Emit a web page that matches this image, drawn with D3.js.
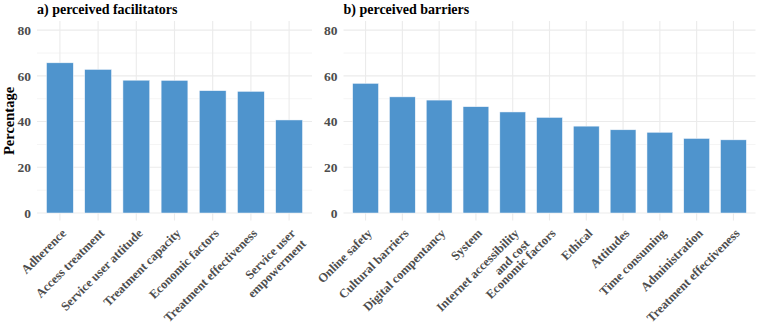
<!DOCTYPE html>
<html>
<head>
<meta charset="utf-8">
<script src="https://cdn.jsdelivr.net/npm/d3@7"></script>
<style>
  html, body { margin: 0; padding: 0; background: #ffffff; }
  svg { display: block; }
</style>
</head>
<body>
<svg id="chart" width="758" height="327"></svg>
<script>
// ---- Data ----
const facilitatorCategories = ["Adherence", "Access treatment", "Service user attitude", "Treatment capacity", "Economic factors", "Treatment effectiveness", "Service user\nempowerment"];
const facilitatorValues = [65.7, 62.8, 58.1, 58.0, 53.5, 53.2, 40.7];

const barrierCategories = ["Online safety", "Cultural barriers", "Digital compentancy", "System", "Internet accessibility\nand cost", "Economic factors", "Ethical", "Attitudes", "Time consuming", "Administration", "Treatment effectiveness"];
const barrierValues = [56.7, 50.8, 49.4, 46.5, 44.2, 41.8, 38.0, 36.4, 35.3, 32.6, 32.0];

const yTicks = [0, 20, 40, 60, 80];
const yMinorTicks = [10, 30, 50, 70];
const panelTitles = ["a) perceived facilitators", "b) perceived barriers"];
const yAxisTitle = "Percentage";

// ---- Layout ----
const FONT = "'Liberation Serif', 'Times New Roman', Times, serif";
const svg = d3.select("#chart");
const panelTop = 21, panelBottom = 213;
const y = d3.scaleLinear().domain([0, 84]).range([panelBottom, panelTop]);

const panels = [
  { cats: facilitatorCategories, vals: facilitatorValues, x0: 37, x1: 312, title: panelTitles[0] },
  { cats: barrierCategories, vals: barrierValues, x0: 343.5, x1: 755.5, title: panelTitles[1] }
];

const barFill = "#4F94CD";
const gridCol = "#EBEBEB";
const textGrey = "#4D4D4D";

panels.forEach(p => {
  const g = svg.append("g");
  const x = d3.scaleBand().domain(p.cats).range([p.x0, p.x1]).paddingInner(0.3).paddingOuter(0.25);

  // minor horizontal grid
  g.selectAll("line.minor").data(yMinorTicks).join("line")
    .attr("x1", p.x0).attr("x2", p.x1)
    .attr("y1", d => y(d)).attr("y2", d => y(d))
    .attr("stroke", gridCol).attr("stroke-width", 0.55);
  // major horizontal grid
  g.selectAll("line.hmajor").data(yTicks).join("line")
    .attr("x1", p.x0).attr("x2", p.x1)
    .attr("y1", d => y(d)).attr("y2", d => y(d))
    .attr("stroke", gridCol).attr("stroke-width", 1.1);
  // vertical grid + ticks
  g.selectAll("line.vmajor").data(p.cats).join("line")
    .attr("x1", d => x(d) + x.bandwidth() / 2).attr("x2", d => x(d) + x.bandwidth() / 2)
    .attr("y1", panelTop).attr("y2", panelBottom + 7.5)
    .attr("stroke", gridCol).attr("stroke-width", 1.1);

  // bars
  g.selectAll("rect.bar").data(p.vals).join("rect")
    .attr("x", (d, i) => x(p.cats[i]))
    .attr("width", x.bandwidth())
    .attr("y", d => y(d))
    .attr("height", d => y(0) - y(d))
    .attr("fill", barFill)
    .attr("stroke", "#F2F6FB").attr("stroke-width", 0.5);

  // y axis
  const yAxis = d3.axisLeft(y).tickValues(yTicks).tickSize(0).tickPadding(6);
  const ya = g.append("g").attr("transform", `translate(${p.x0},0)`).call(yAxis);
  ya.select(".domain").remove();
  ya.selectAll("text")
    .attr("font-family", FONT).attr("font-weight", "bold")
    .attr("font-size", 13.5).attr("fill", textGrey);

  // x labels
  const lab = g.selectAll("text.xlab").data(p.cats).join("text")
    .attr("class", "xlab")
    .attr("transform", d => `translate(${x(d) + x.bandwidth() / 2 + 7},234) rotate(-45)`)
    .attr("text-anchor", "end")
    .attr("font-family", FONT).attr("font-weight", "bold")
    .attr("font-size", 12.5).attr("fill", textGrey);
  lab.each(function(d) {
    const lines = d.split("\n");
    const t = d3.select(this);
    lines.forEach((ln, i) => {
      t.append("tspan").attr("x", 0).attr("dy", i === 0 ? 0 : "1.2em").text(ln);
    });
  });

  // title
  g.append("text")
    .attr("x", p.x0).attr("y", 14)
    .attr("font-family", FONT).attr("font-weight", "bold")
    .attr("font-size", 14).attr("fill", "#000")
    .text(p.title);
});

// y axis title
svg.append("text")
  .attr("transform", `translate(14,121) rotate(-90)`)
  .attr("text-anchor", "middle")
  .attr("font-family", FONT).attr("font-weight", "bold")
  .attr("font-size", 14.5).attr("fill", "#000")
  .text(yAxisTitle);
</script>
</body>
</html>
